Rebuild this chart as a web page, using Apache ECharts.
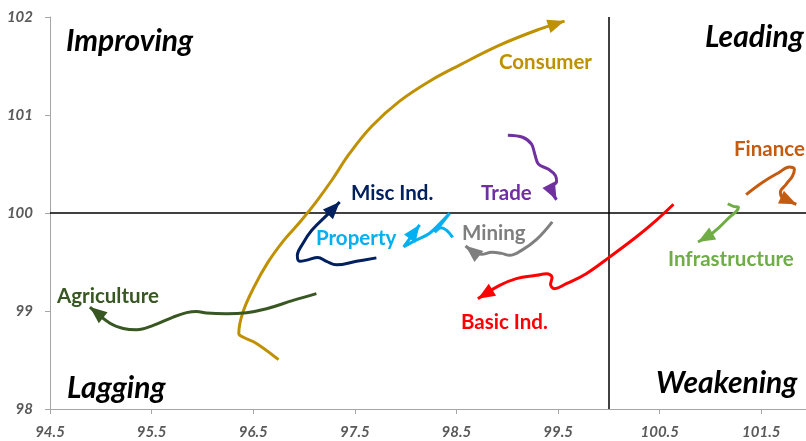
<!DOCTYPE html>
<html>
<head>
<meta charset="utf-8">
<script src="https://cdn.jsdelivr.net/npm/echarts@6/dist/echarts.min.js"></script>
<style>
  html, body { margin: 0; padding: 0; background: #fff; }
  #chart { width: 806px; height: 441px; }
</style>
</head>
<body>
<div id="chart"></div>
<script>
// tails: [x = relative strength, y = momentum], last point is the arrow tip
var consumer = [[96.749, 98.503], [96.532, 98.669], [96.408, 98.73], [96.358, 98.771], [96.398, 98.986], [96.506, 99.241], [96.644, 99.496], [96.801, 99.721], [96.958, 99.905], [97.116, 100.109], [97.273, 100.334], [97.45, 100.61], [97.666, 100.886], [97.941, 101.141], [98.236, 101.345], [98.531, 101.509], [98.925, 101.713], [99.318, 101.876], [99.564, 101.958]]
var miscInd = [[97.712, 99.542], [97.516, 99.507], [97.319, 99.471], [97.221, 99.507], [97.135, 99.547], [97.037, 99.522], [96.958, 99.507], [96.934, 99.568], [96.978, 99.67], [97.076, 99.823], [97.263, 100.017], [97.351, 100.112]]
var property = [[98.463, 99.752], [98.404, 99.823], [98.345, 99.849], [98.286, 99.803], [98.433, 99.997], [98.236, 99.793], [98.079, 99.711], [97.981, 99.655], [98.138, 99.88]]
var mining = [[99.443, 99.91], [99.289, 99.731], [99.141, 99.619], [99.023, 99.568], [98.944, 99.588], [98.846, 99.599], [98.748, 99.578], [98.669, 99.599], [98.59, 99.665]]
var trade = [[99.006, 100.794], [99.151, 100.773], [99.239, 100.702], [99.274, 100.589], [99.308, 100.497], [99.407, 100.446], [99.475, 100.38], [99.485, 100.318], [99.426, 100.252], [99.485, 100.135]]
var basicInd = [[100.636, 100.089], [100.466, 99.925], [100.269, 99.755], [100.006, 99.55], [99.777, 99.381], [99.581, 99.279], [99.466, 99.228], [99.426, 99.272], [99.441, 99.343], [99.387, 99.379], [99.286, 99.364], [99.089, 99.33], [98.925, 99.261], [98.711, 99.126]]
var infrastructure = [[101.17, 100.094], [101.226, 100.068], [101.275, 100.058], [101.255, 100.017], [101.186, 99.956], [101.088, 99.857], [100.99, 99.772], [100.877, 99.704]]
var finance = [[101.351, 100.188], [101.514, 100.314], [101.678, 100.416], [101.777, 100.47], [101.826, 100.446], [101.806, 100.375], [101.744, 100.293], [101.688, 100.211], [101.708, 100.155], [101.845, 100.089]]
var agriculture = [[97.122, 99.177], [96.892, 99.108], [96.631, 99.023], [96.434, 98.983], [96.237, 98.972], [96.041, 98.979], [95.942, 98.996], [95.844, 98.983], [95.712, 98.938], [95.516, 98.853], [95.353, 98.809], [95.221, 98.822], [95.09, 98.876], [94.893, 99.04]]

var xTicks = [94.5, 95.5, 96.5, 97.5, 98.5, 99.5, 100.5, 101.5]

var tails = [
  { name: 'Consumer', data: consumer, color: '#BF9000', smooth: 0.4 },
  { name: 'Misc Ind.', data: miscInd, color: '#002060', smooth: 0.4 },
  { name: 'Property', data: property, color: '#00B0F0', smooth: 0.25 },
  { name: 'Mining', data: mining, color: '#7F7F7F', smooth: 0.4 },
  { name: 'Trade', data: trade, color: '#7030A0', smooth: 0.35 },
  { name: 'Basic Ind.', data: basicInd, color: '#FF0000', smooth: 0.4 },
  { name: 'Infrastructure', data: infrastructure, color: '#70AD47', smooth: 0.4 },
  { name: 'Finance', data: finance, color: '#C55A11', smooth: 0.4 },
  { name: 'Agriculture', data: agriculture, color: '#385723', smooth: 0.4 }
]

var ARROW_W = 14
var ARROW_H = 17
var chart = echarts.init(document.getElementById('chart'))

function buildSeries (arrows) {
  return tails.map(function (t, i) {
    var n = t.data.length
    var data = t.data.map(function (p, j) {
      if (j === n - 1 && arrows) {
        return {
          value: p,
          symbol: 'triangle',
          symbolSize: [ARROW_W, ARROW_H],
          symbolRotate: arrows[i].rotate,
          symbolOffset: arrows[i].offset
        }
      }
      return { value: p }
    })
    var s = {
      name: t.name,
      type: 'line',
      smooth: t.smooth,
      data: data,
      symbol: 'none',
      showAllSymbol: true,
      color: t.color,
      lineStyle: { width: 3, color: t.color },
      itemStyle: { color: t.color },
      silent: true,
      z: 3
    }
    if (i === 0) {
      s.markLine = {
        silent: true,
        symbol: 'none',
        label: { show: false },
        lineStyle: { color: '#000', width: 1.5, type: 'solid' },
        data: [{ yAxis: 100 }, { xAxis: 100 }],
        z: 1
      }
    }
    return s
  })
}

function txt (text, x, y, color, size, italic) {
  return {
    type: 'text',
    x: x,
    y: y,
    z: 10,
    style: {
      text: text,
      fill: color,
      font: (italic ? 'italic ' : '') + 'bold ' + size + 'px Lato, sans-serif',
      textAlign: 'left',
      textVerticalAlign: 'middle'
    }
  }
}

var axisFont = { color: '#595959', fontSize: 15, fontWeight: 'bold', fontStyle: 'italic', fontFamily: 'Lato' }

chart.setOption({
  animation: false,
  grid: { left: 50, right: 0, top: 17, bottom: 32 },
  xAxis: {
    type: 'value',
    min: 94.5,
    max: 101.94,
    axisLine: { show: true, lineStyle: { color: '#A6A6A6', width: 1 } },
    axisTick: { show: true, length: 5, customValues: xTicks, lineStyle: { color: '#A6A6A6' } },
    axisLabel: Object.assign({ margin: 16, customValues: xTicks, formatter: function (v) { return v.toFixed(1) } }, axisFont),
    splitLine: { show: false }
  },
  yAxis: {
    type: 'value',
    min: 98,
    max: 102,
    interval: 1,
    axisLine: { show: true, lineStyle: { color: '#A6A6A6', width: 1 } },
    axisTick: { show: true, length: 5, lineStyle: { color: '#A6A6A6' } },
    axisLabel: Object.assign({ margin: 17 }, axisFont),
    splitLine: { show: false }
  },
  graphic: [
    txt('Improving', 66, 41, '#000', 30, true),
    txt('Leading', 705, 37, '#000', 30, true),
    txt('Lagging', 67, 388, '#000', 30, true),
    txt('Weakening', 656, 383, '#000', 30, true),
    txt('Consumer', 499, 62, '#BF9000', 20.5, false),
    txt('Misc Ind.', 351, 193, '#002060', 20.5, false),
    txt('Trade', 481, 193, '#7030A0', 20.5, false),
    txt('Finance', 734, 149, '#C55A11', 20.5, false),
    txt('Property', 316, 238, '#00B0F0', 20.5, false),
    txt('Mining', 462, 233, '#7F7F7F', 20.5, false),
    txt('Basic Ind.', 461, 322, '#FF0000', 20.5, false),
    txt('Infrastructure', 668, 259, '#70AD47', 20.5, false),
    txt('Agriculture', 57, 296, '#385723', 20.5, false)
  ],
  series: buildSeries(null)
})

// arrow heads: orient along the last segment, tip on the last point
var arrows = tails.map(function (t) {
  var n = t.data.length
  var a = chart.convertToPixel({ gridIndex: 0 }, t.data[n - 2])
  var b = chart.convertToPixel({ gridIndex: 0 }, t.data[n - 1])
  var dx = b[0] - a[0]
  var dy = b[1] - a[1]
  var len = Math.sqrt(dx * dx + dy * dy) || 1
  return {
    rotate: Math.atan2(-dy, dx) * 180 / Math.PI - 90,
    offset: [-dx / len * ARROW_H / 2, -dy / len * ARROW_H / 2]
  }
})
chart.setOption({ series: buildSeries(arrows) })
</script>
</body>
</html>
